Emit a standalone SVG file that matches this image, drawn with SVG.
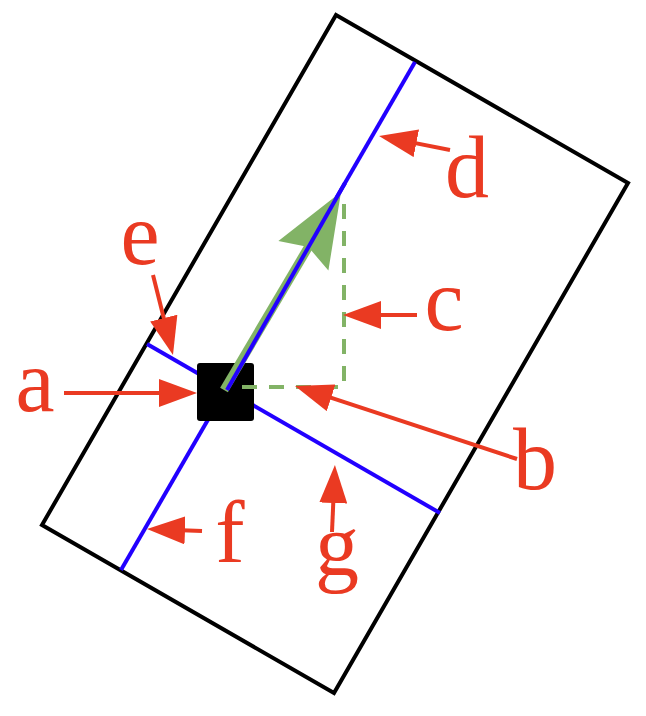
<svg xmlns="http://www.w3.org/2000/svg" width="646" height="716" viewBox="0 0 646 716">
  <defs>
    <marker id="redhead" viewBox="0 0 38 28" refX="10" refY="14" markerWidth="38" markerHeight="28" markerUnits="userSpaceOnUse" orient="auto">
      <path d="M0,0 L38,14 L0,28 Z" fill="#ea3a22"/>
    </marker>
  </defs>
  <rect width="646" height="716" fill="#fff"/>

  <g id="frame">
    <polygon points="336,15 628,183 334,693 42,525" fill="none" stroke="#000" stroke-width="4"/>
  </g>

  <g id="axes" stroke="#2200ff" stroke-width="4" fill="none">
    <line x1="415" y1="62" x2="121" y2="570"/>
    <line x1="147" y1="344" x2="440" y2="513"/>
  </g>

  <g id="center-node">
    <rect x="197" y="363" width="57" height="58" rx="3" fill="#000"/>
  </g>

  <g id="components">
    <polyline points="242,387 344,387 344,194" fill="none" stroke="#82b366" stroke-width="4" stroke-dasharray="15 12"/>
  </g>

  <g id="vector">
    <line x1="224" y1="390" x2="309" y2="246" stroke="#82b366" stroke-width="9"/>
    <polygon points="341,192 328.4,270.5 308.4,247.1 278.4,240.9" fill="#82b366"/>
    <line x1="345" y1="183" x2="227" y2="390" stroke="#2200ff" stroke-width="4"/>
  </g>

  <g id="connectors" stroke="#ea3a22" stroke-width="4" fill="none" marker-end="url(#redhead)">
    <line x1="64" y1="393" x2="169" y2="393"/>
    <line x1="517" y1="459" x2="321.6" y2="394.7"/>
    <line x1="417" y1="315" x2="371" y2="315"/>
    <line x1="450" y1="150" x2="406.5" y2="141.4"/>
    <line x1="153" y1="275" x2="166.2" y2="327.8"/>
    <line x1="202" y1="531" x2="175" y2="530"/>
    <line x1="332" y1="532" x2="333.7" y2="493"/>
  </g>

  <g id="labels" font-family="Liberation Serif, serif" font-size="88" fill="#ea3a22" text-anchor="middle">
    <text x="35" y="411" font-family="Liberation Serif">a</text>
    <text x="535" y="489" font-family="Liberation Serif">b</text>
    <text x="444" y="330" font-family="Liberation Serif">c</text>
    <text x="467" y="197" font-family="Liberation Serif">d</text>
    <text x="140" y="264" font-family="Liberation Serif">e</text>
    <text x="230" y="562" font-family="Liberation Serif">f</text>
    <text x="337" y="575" font-family="Liberation Serif">g</text>
  </g>
</svg>
